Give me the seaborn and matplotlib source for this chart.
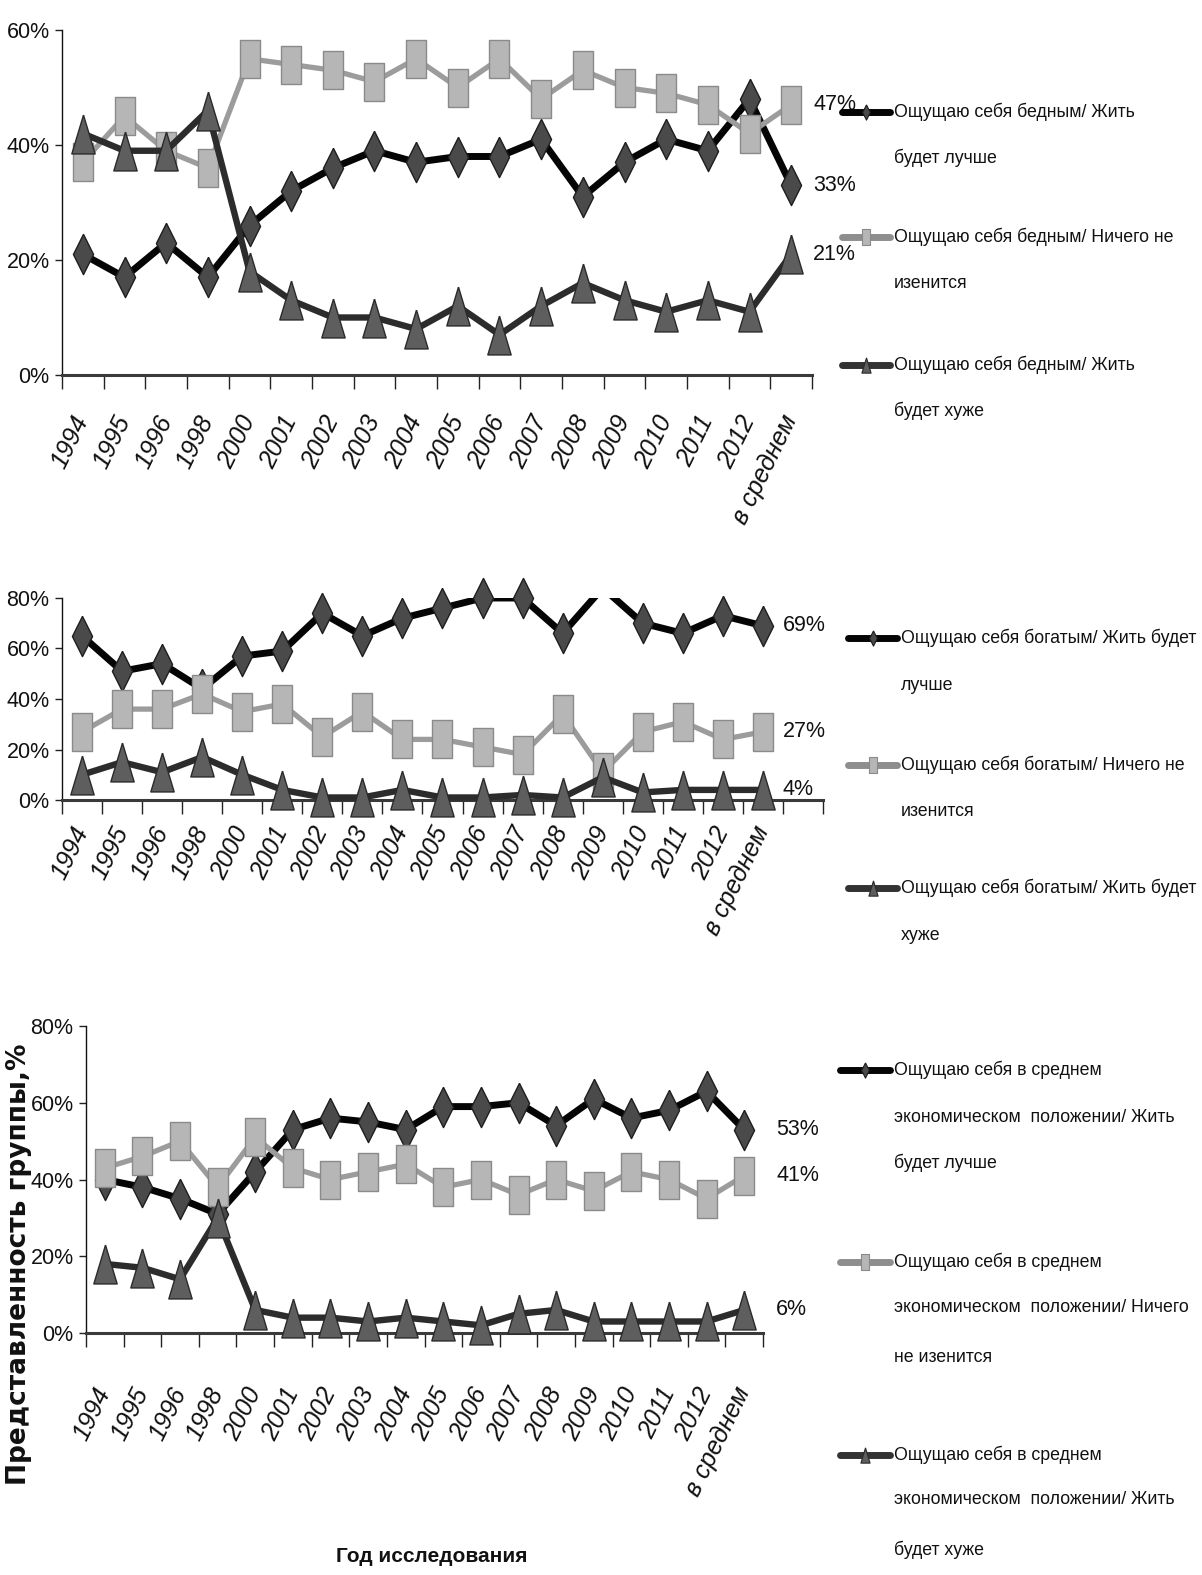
import numpy as np
import matplotlib
matplotlib.use("Agg")
import matplotlib.pyplot as plt
import seaborn as sns
from matplotlib.lines import Line2D

# ---------------- data ----------------
categories = ["1994", "1995", "1996", "1998", "2000", "2001", "2002", "2003", "2004",
              "2005", "2006", "2007", "2008", "2009", "2010", "2011", "2012", "в среднем"]

poor_better = [21, 17, 23, 17, 26, 32, 36, 39, 37, 38, 38, 41, 31, 37, 41, 39, 48, 33]
poor_same   = [37, 45, 39, 36, 55, 54, 53, 51, 55, 50, 55, 48, 53, 50, 49, 47, 42, 47]
poor_worse  = [42, 39, 39, 46, 18, 13, 10, 10, 8, 12, 7, 12, 16, 13, 11, 13, 11, 21]

rich_better = [65, 51, 54, 44, 57, 59, 74, 65, 72, 76, 80, 80, 66, 84, 70, 66, 73, 69]
rich_same   = [27, 36, 36, 42, 35, 38, 25, 35, 24, 24, 21, 18, 34, 11, 27, 31, 24, 27]
rich_worse  = [10, 15, 11, 17, 10, 4, 1, 1, 4, 1, 1, 2, 1, 9, 3, 4, 4, 4]

mid_better = [40, 38, 35, 31, 42, 53, 56, 55, 53, 59, 59, 60, 54, 61, 56, 58, 63, 53]
mid_same   = [43, 46, 50, 38, 51, 43, 40, 42, 44, 38, 40, 36, 40, 37, 42, 40, 35, 41]
mid_worse  = [18, 17, 14, 30, 6, 4, 4, 3, 4, 3, 2, 5, 6, 3, 3, 3, 3, 6]

poor_labels = [["Ощущаю себя бедным/ Жить", "будет лучше"],
               ["Ощущаю себя бедным/ Ничего не", "изенится"],
               ["Ощущаю себя бедным/ Жить", "будет хуже"]]
rich_labels = [["Ощущаю себя богатым/ Жить будет", "лучше"],
               ["Ощущаю себя богатым/ Ничего не", "изенится"],
               ["Ощущаю себя богатым/ Жить будет", "хуже"]]
mid_labels = [["Ощущаю себя в среднем", "экономическом  положении/ Жить", "будет лучше"],
              ["Ощущаю себя в среднем", "экономическом  положении/ Ничего", "не изенится"],
              ["Ощущаю себя в среднем", "экономическом  положении/ Жить", "будет хуже"]]

y_title = "Представленность группы,%"
x_title = "Год исследования"

# ---------------- style ----------------
sns.set_style("white")
FAM = ["Liberation Sans", "DejaVu Sans"]
plt.rcParams["font.family"] = FAM

W, H = 1202, 1575
fig = plt.figure(figsize=(W / 100, H / 100), dpi=100)

def fx(x):
    return x / W

def fy(y):
    return 1 - y / H

DIAMOND = [(0, 1), (0.5, 0), (0, -1), (-0.5, 0), (0, 1)]
SQUARE = [(-0.55, -1), (0.55, -1), (0.55, 1), (-0.55, 1), (-0.55, -1)]
TRIANGLE = [(0, 1), (0.6, -1), (-0.6, -1), (0, 1)]

specs = [
    dict(line="#050505", lw=5.0, marker=DIAMOND, ms=29, fc="#4a4a4a", ec="#1e1e1e", z=2),
    dict(line="#9c9c9c", lw=3.8, marker=SQUARE, ms=27, fc="#b6b6b6", ec="#8a8a8a", z=3),
    dict(line="#2c2c2c", lw=4.6, marker=TRIANGLE, ms=28, fc="#5e5e5e", ec="#2a2a2a", z=4),
]

TXT = "#111111"
LEG_FS = 12.8


def draw_series(ax, vals, spec, ymax):
    x = np.arange(len(vals))
    v = np.asarray(vals, dtype=float)
    clip = bool((v > ymax).any())
    sns.lineplot(x=x, y=v, ax=ax, color=spec["line"], lw=spec["lw"], clip_on=clip,
                 zorder=spec["z"], legend=False, sort=False, estimator=None,
                 solid_joinstyle="round", solid_capstyle="round")
    keep = [i for i, val in enumerate(v) if val <= ymax]
    sns.lineplot(x=x, y=v, ax=ax, color=spec["line"], linestyle="none",
                 marker=spec["marker"], markersize=spec["ms"],
                 markerfacecolor=spec["fc"], markeredgecolor=spec["ec"],
                 markeredgewidth=1.0, markevery=keep, clip_on=False,
                 zorder=spec["z"] + 0.5, legend=False, sort=False, estimator=None)


def make_panel(rect_px, series, ymax, nslots, xpad, value_dx, legend_rows,
               handle_x, text_x):
    left, top, right, bottom = rect_px
    ax = fig.add_axes([fx(left), fy(bottom), fx(right - left), (bottom - top) / H])
    for vals, spec in zip(series, specs):
        draw_series(ax, vals, spec, ymax)
    ax.set_xlim(-0.5, nslots - 0.5)
    ax.set_ylim(0, ymax)
    yt = np.arange(0, ymax + 1, 20)
    ax.set_yticks(yt)
    ax.set_yticklabels([f"{t}%" for t in yt], fontsize=15.5, color=TXT)
    ax.set_xticks(np.arange(len(categories)))
    ax.set_xticklabels(categories, rotation=64, ha="right", va="center",
                       rotation_mode="anchor", fontsize=18, fontstyle="italic",
                       color=TXT)
    ax.set_xticks(np.arange(-0.5, nslots, 1.0), minor=True)
    ax.tick_params(axis="x", which="major", length=0, pad=xpad)
    ax.tick_params(axis="x", which="minor", length=10, width=1.0, color="#222222",
                   direction="out", bottom=True)
    ax.tick_params(axis="y", which="major", length=5, width=1.0, color="#222222",
                   direction="out", left=True, pad=4)
    for s in ["top", "right"]:
        ax.spines[s].set_visible(False)
    ax.spines["left"].set_color("#111111")
    ax.spines["left"].set_linewidth(1.0)
    ax.spines["bottom"].set_color("#3a3a3a")
    ax.spines["bottom"].set_linewidth(2.2)
    ax.set_xlabel("")
    ax.set_ylabel("")
    last = len(categories) - 1
    for vals in series:
        ax.annotate(f"{vals[last]}%", xy=(last, vals[last]), xytext=(value_dx, 0),
                    textcoords="offset pixels", ha="left", va="center",
                    fontsize=15.5, color=TXT, annotation_clip=False, zorder=6)
    for rows, spec, hcol in zip(legend_rows, specs, ["#050505", "#8e8e8e", "#333333"]):
        ys, txts = rows
        fig.add_artist(Line2D([fx(handle_x[0]), fx(handle_x[1])], [fy(ys[0]), fy(ys[0])],
                              transform=fig.transFigure, color=hcol, lw=5,
                              solid_capstyle="round"))
        fig.add_artist(Line2D([fx((handle_x[0] + handle_x[1]) / 2)], [fy(ys[0])],
                              transform=fig.transFigure, linestyle="none",
                              marker=spec["marker"], markersize=11,
                              markerfacecolor=spec["fc"], markeredgecolor=spec["ec"],
                              markeredgewidth=0.8))
        for yy, t in zip(ys, txts):
            fig.text(fx(text_x), fy(yy), t, ha="left", va="center", fontsize=LEG_FS,
                     color=TXT)
    return ax


make_panel((62, 30, 812, 375), [poor_better, poor_same, poor_worse], 60, 18,
           xpad=30, value_dx=22,
           legend_rows=[([112, 158], poor_labels[0]), ([237, 283], poor_labels[1]),
                        ([365, 411], poor_labels[2])],
           handle_x=(842, 890), text_x=894)

make_panel((62, 598, 823, 800), [rich_better, rich_same, rich_worse], 80, 19,
           xpad=20, value_dx=20,
           legend_rows=[([638, 685], rich_labels[0]), ([765, 812], rich_labels[1]),
                        ([888, 935], rich_labels[2])],
           handle_x=(848, 897), text_x=901)

make_panel((86, 1026, 763, 1333), [mid_better, mid_same, mid_worse], 80, 18,
           xpad=40, value_dx=32,
           legend_rows=[([1070, 1117, 1163], mid_labels[0]),
                        ([1262, 1308, 1357], mid_labels[1]),
                        ([1455, 1500, 1550], mid_labels[2])],
           handle_x=(840, 890), text_x=894)

fig.text(fx(19), fy(1264), y_title, rotation=90, ha="center", va="center",
         fontsize=19, fontweight="bold", family=["DejaVu Sans"], color=TXT)
fig.text(fx(432), fy(1556), x_title, ha="center", va="center", fontsize=15,
         fontweight="bold", color=TXT)

fig.savefig("out.png", dpi=100, facecolor="white")
